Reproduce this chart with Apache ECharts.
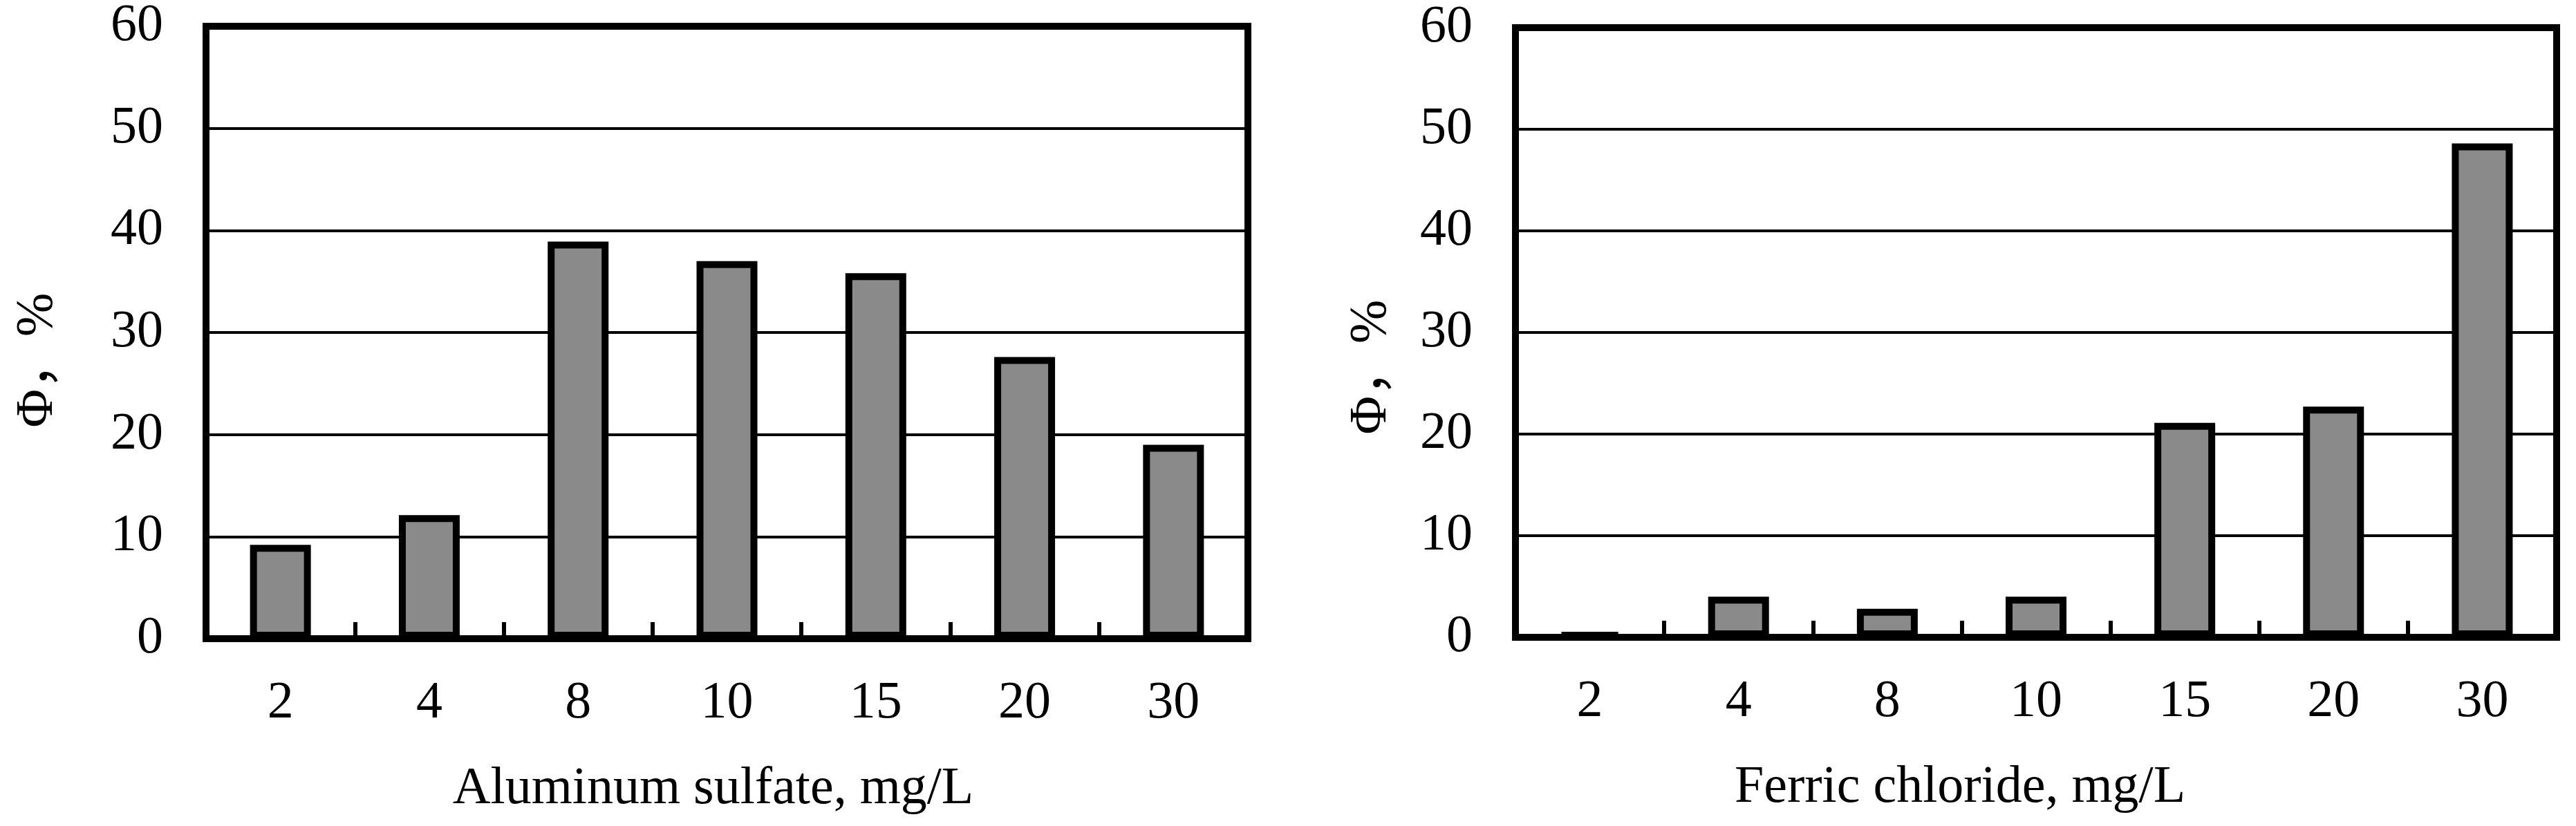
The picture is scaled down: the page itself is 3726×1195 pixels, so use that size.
<!DOCTYPE html>
<html>
<head>
<meta charset="utf-8">
<script src="https://cdn.jsdelivr.net/npm/echarts@6/dist/echarts.min.js"></script>
<style>
html,body{margin:0;padding:0;background:#fff;}
#c{width:3726px;height:1195px;}
</style>
</head>
<body>
<div id="c"></div>
<script>
const categories = ['2', '4', '8', '10', '15', '20', '30'];
const aluminumSulfate = [9.2, 12.1, 38.9, 37.0, 35.8, 27.6, 19.0];
const ferricChloride = [0.4, 4.0, 2.8, 4.0, 21.1, 22.7, 48.6];
const yMin = 0, yMax = 60, yStep = 10;
const xNames = ['Aluminum sulfate, mg/L', 'Ferric chloride, mg/L'];
const yName = 'Φ，%';

const FONT = '"Liberation Serif", "Noto Sans CJK SC", serif';
const FS = 76;

function xAxis(i, name, shift) {
  return {
    type: 'category', gridIndex: i, data: categories, name: name,
    nameLocation: 'middle', nameGap: 180,
    nameTextStyle: {fontFamily: FONT, fontSize: FS, color: '#000', padding: [0, shift, 0, 0]},
    axisLine: {show: true, lineStyle: {color: '#000', width: 10}},
    axisTick: {show: true, inside: true, length: 24, interval: 0, lineStyle: {color: '#000', width: 6}},
    axisLabel: {fontFamily: FONT, fontSize: FS, color: '#000', margin: 56, interval: 0},
    splitLine: {show: false}
  };
}
function yAxis(i, gap, shift) {
  return {
    type: 'value', gridIndex: i, min: yMin, max: yMax, interval: yStep,
    name: yName, nameLocation: 'middle', nameGap: gap, nameRotate: 90,
    nameTextStyle: {fontFamily: FONT, fontSize: FS, color: '#000', padding: [0, shift, 0, 0]},
    axisLine: {show: true, lineStyle: {color: '#000', width: 10}},
    axisTick: {show: false},
    axisLabel: {fontFamily: FONT, fontSize: FS, color: '#000', margin: 62},
    splitLine: {show: true, lineStyle: {color: '#000', width: 4}}
  };
}
function bars(i, data) {
  return {
    type: 'bar', xAxisIndex: i, yAxisIndex: i, data: data, barWidth: 88,
    itemStyle: {color: '#8a8a8a', borderColor: '#000', borderWidth: 10},
    silent: true
  };
}

const chart = echarts.init(document.getElementById('c'), null, {renderer: 'canvas'});
chart.setOption({
  animation: false,
  backgroundColor: '#fff',
  grid: [
    {left: 298, top: 36, width: 1507, height: 888, show: true, borderColor: '#000', borderWidth: 10, backgroundColor: 'transparent'},
    {left: 2192, top: 40, width: 1506, height: 882, show: true, borderColor: '#000', borderWidth: 10, backgroundColor: 'transparent'}
  ],
  xAxis: [xAxis(0, xNames[0], 40), xAxis(1, xNames[1], 220)],
  yAxis: [yAxis(0, 205, 80), yAxis(1, 170, 100)],
  series: [bars(0, aluminumSulfate), bars(1, ferricChloride)]
});
</script>
</body>
</html>
